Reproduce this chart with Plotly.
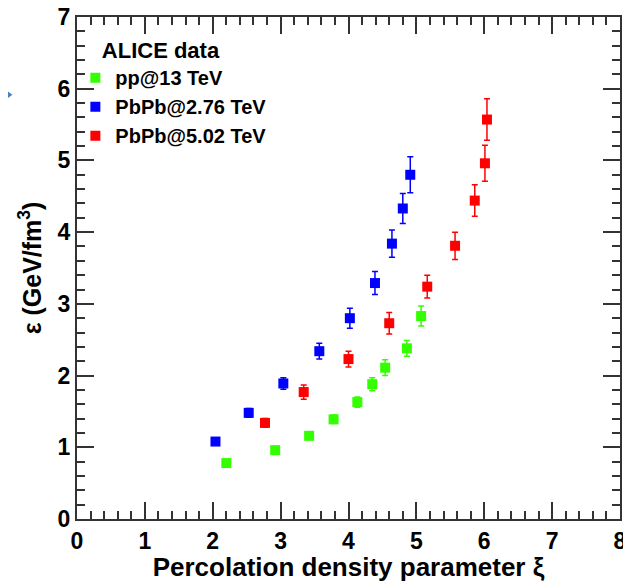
import plotly.graph_objects as go

# Data
pp13_x = [2.20, 2.92, 3.42, 3.78, 4.13, 4.35, 4.54, 4.86, 5.07]
pp13_y = [0.78, 0.96, 1.16, 1.39, 1.63, 1.88, 2.11, 2.38, 2.83]
pp13_err = [0.04, 0.04, 0.05, 0.06, 0.07, 0.09, 0.11, 0.11, 0.14]

pb276_x = [2.04, 2.53, 3.04, 3.57, 4.02, 4.39, 4.64, 4.80, 4.91]
pb276_y = [1.08, 1.48, 1.89, 2.34, 2.80, 3.29, 3.84, 4.33, 4.80]
pb276_err = [0.05, 0.06, 0.08, 0.11, 0.14, 0.16, 0.19, 0.21, 0.25]

pb502_x = [2.77, 3.34, 4.00, 4.60, 5.16, 5.57, 5.86, 6.01, 6.04]
pb502_y = [1.34, 1.77, 2.23, 2.73, 3.24, 3.81, 4.44, 4.96, 5.57]
pb502_err = [0.06, 0.10, 0.11, 0.15, 0.16, 0.19, 0.22, 0.25, 0.29]

series = [
    ("pp@13 TeV", pp13_x, pp13_y, pp13_err, "#33ff00"),
    ("PbPb@2.76 TeV", pb276_x, pb276_y, pb276_err, "#0000ff"),
    ("PbPb@5.02 TeV", pb502_x, pb502_y, pb502_err, "#ff0000"),
]

FONT = "Liberation Sans, Arial, Helvetica, sans-serif"

fig = go.Figure()
for name, xs, ys, es, col in series:
    fig.add_trace(go.Scatter(
        x=xs, y=ys, mode="markers", name=name,
        marker=dict(symbol="square", size=10, color=col, line=dict(width=0)),
        error_y=dict(type="data", array=es, visible=True, color=col,
                     thickness=1.5, width=3),
    ))

axis_common = dict(
    showgrid=False, zeroline=False, showline=True, linecolor="#333333",
    linewidth=2, mirror="allticks", ticks="inside", ticklen=17, tickwidth=1.5,
    tickcolor="#333333", automargin=False, ticklabeloverflow="allow",
    tickfont=dict(family=FONT, size=23, color="black", weight="bold"),
)
minor_common = dict(ticks="inside", dtick=0.2, ticklen=8, tickwidth=1.5,
                    tickcolor="#333333", showgrid=False)

fig.update_xaxes(
    range=[0, 8], dtick=1, tick0=0, minor=minor_common,
    title=dict(text="Percolation density parameter ξ",
               font=dict(family=FONT, size=26, color="black", weight="bold"), standoff=4),
    **axis_common,
)
fig.update_yaxes(
    range=[0, 7], dtick=1, tick0=0, minor=minor_common,
    title=dict(text="ε (GeV/fm<sup>3</sup>)",
               font=dict(family=FONT, size=25, color="black", weight="bold"), standoff=9),
    **axis_common,
)

# The page is shown with an 8px body margin, so the figure is 8px smaller
fig.update_layout(
    width=623, height=574,
    margin=dict(l=69, r=11, t=9, b=63, autoexpand=False),
    plot_bgcolor="white", paper_bgcolor="white",
    legend=dict(
        x=-0.003, y=0.975, xanchor="left", yanchor="top",
        bgcolor="rgba(0,0,0,0)",
        title=dict(text="\u00a0\u00a0\u00a0\u00a0ALICE data",
                   font=dict(family=FONT, size=22, color="black", weight="bold")),
        font=dict(family=FONT, size=20, color="black", weight="bold"),
        itemwidth=30, tracegroupgap=0,
    ),
    shapes=[dict(
        type="path", xref="paper", yref="paper",
        path="M -0.14,0.862 L -0.119,0.845 L -0.14,0.828 Z",
        fillcolor="#4a7fc1", line=dict(width=0), layer="above",
    )],
)

fig.write_html("out.html")
